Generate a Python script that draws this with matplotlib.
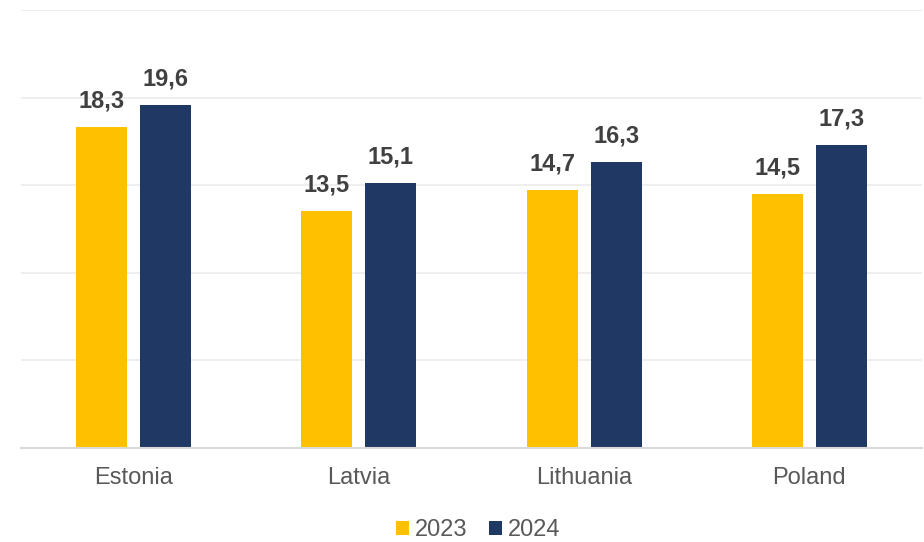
import numpy as np
import matplotlib
matplotlib.use("Agg")
import matplotlib.pyplot as plt

plt.rcParams['font.family'] = ['Liberation Sans', 'DejaVu Sans']

countries = ['Estonia', 'Latvia', 'Lithuania', 'Poland']
vals_2023 = [18.3, 13.5, 14.7, 14.5]
vals_2024 = [19.6, 15.1, 16.3, 17.3]

x = np.arange(len(countries))
width = 0.227
off = 0.142

fig = plt.figure(figsize=(9.24, 5.42), dpi=100)
ax = fig.add_axes([21/924, 94/542, 901/924, 438/542])

b1 = ax.bar(x - off, vals_2023, width, color='#FFC000', label='2023', zorder=3)
b2 = ax.bar(x + off, vals_2024, width, color='#203864', label='2024', zorder=3)

# value labels above bars, comma decimal separator
for bars, vals in ((b1, vals_2023), (b2, vals_2024)):
    for r, v in zip(bars, vals):
        ax.annotate(f'{v:.1f}'.replace('.', ','), (r.get_x() + r.get_width()/2, v),
                    xytext=(0, 10.5), textcoords='offset points', ha='center', va='bottom',
                    fontsize=17, fontweight='bold', color='#404040')

ax.set_xlim(-0.5, 3.5)
ax.set_ylim(0, 25)
ax.set_yticks([0, 5, 10, 15, 20, 25])
ax.set_yticklabels([])
ax.tick_params(axis='y', length=0)
ax.grid(axis='y', color='#EBEBEB', linewidth=1.2, zorder=0)
ax.set_xticks(x)
ax.set_xticklabels(countries, fontsize=17, color='#595959')
ax.tick_params(axis='x', length=0, pad=14)
for s in ['top', 'right', 'left']:
    ax.spines[s].set_visible(False)
ax.spines['bottom'].set_color('#D9D9D9')
ax.spines['bottom'].set_linewidth(1.5)
ax.spines['bottom'].set_zorder(4)

ax.legend(loc='center', bbox_to_anchor=(478/924, 12/542), bbox_transform=fig.transFigure,
          ncol=2, frameon=False, fontsize=17, handlelength=0.55, handleheight=0.55,
          handletextpad=0.25, columnspacing=0.9, labelcolor='#595959')

fig.savefig('out.png', dpi=100)
